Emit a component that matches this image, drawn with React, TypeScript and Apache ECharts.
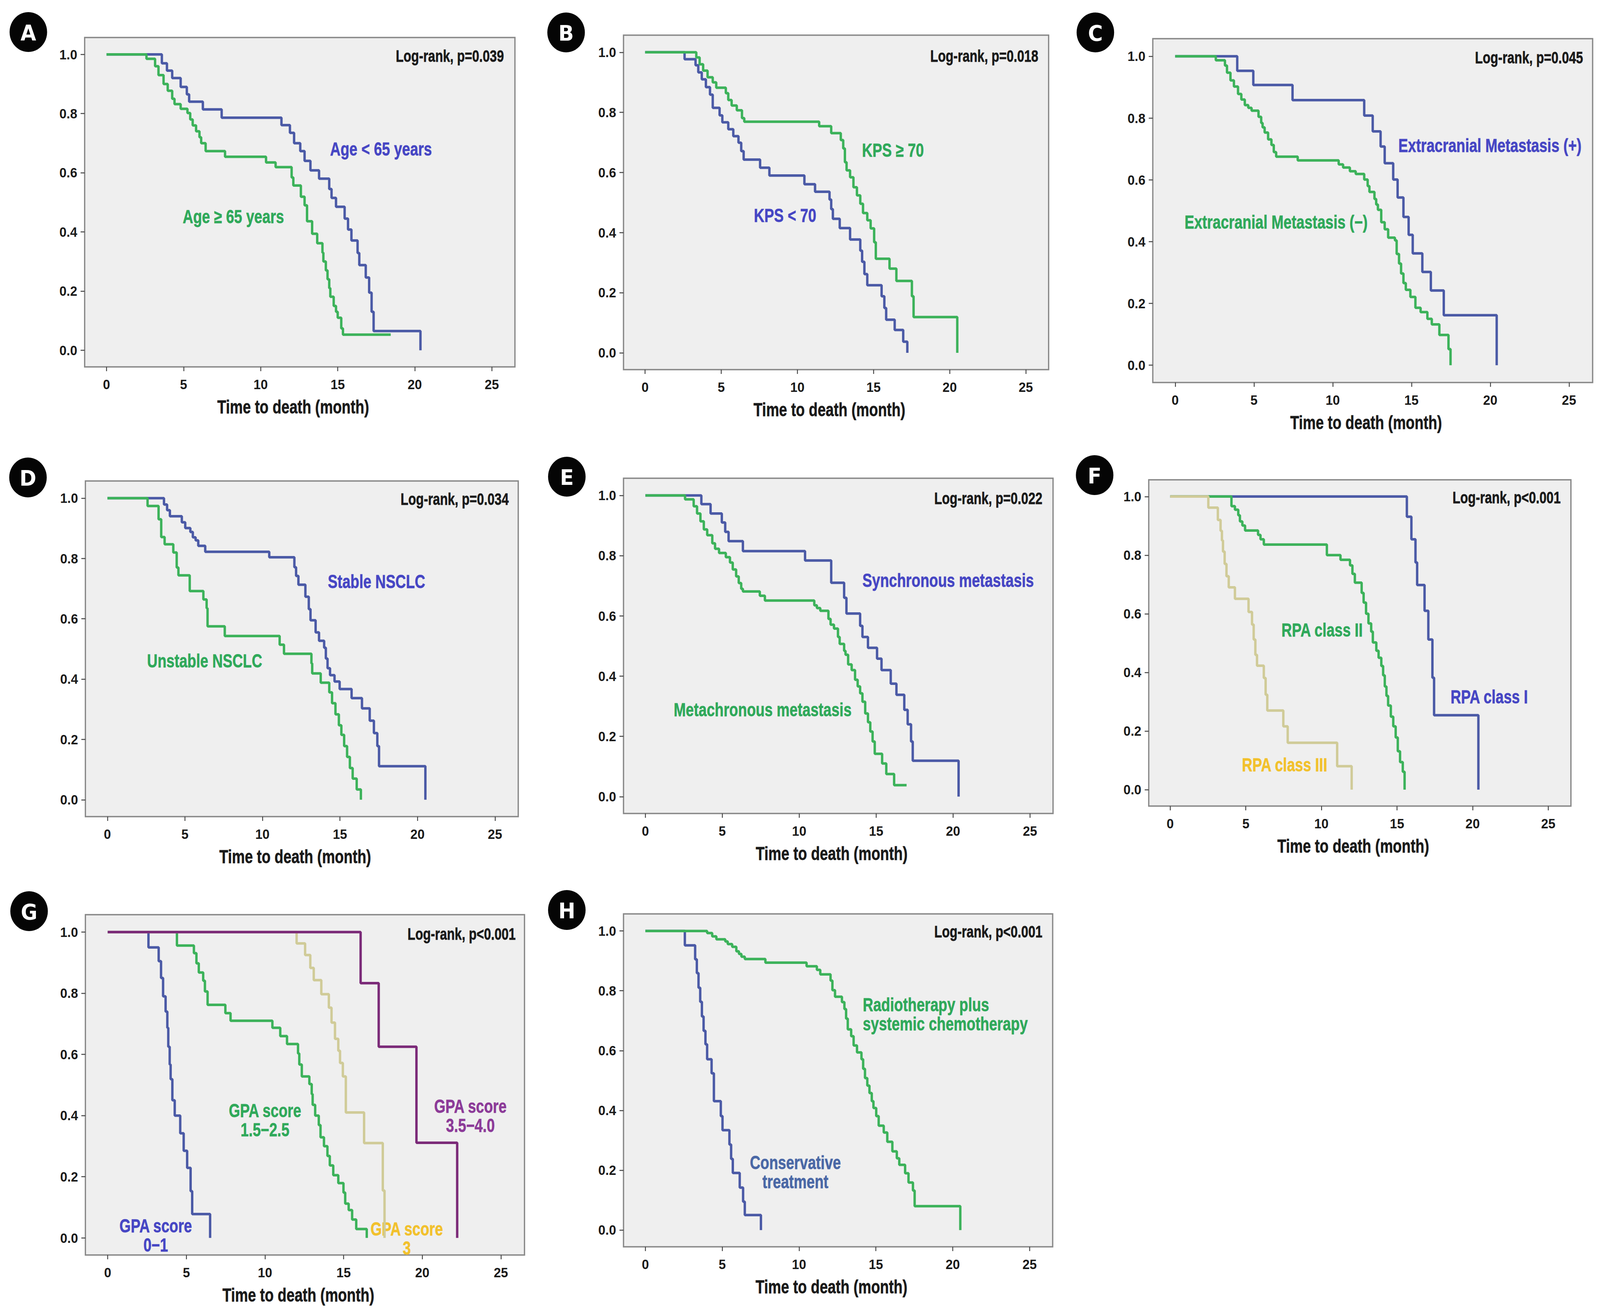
import React, { useEffect, useRef } from "react";
import * as echarts from "echarts";

const PAGE_W = 4347;
const PAGE_H = 3363;

// ---------- tick values / axis text ----------
const xTickValues = [0, 5, 10, 15, 20, 25];
const yTickValues = [0, 0.2, 0.4, 0.6, 0.8, 1.0];
const xAxisTitle = "Time to death (month)";
const panelLetters = ["A", "B", "C", "D", "E", "F", "G", "H"];
const logRankTexts = [
  "Log-rank, p=0.039",
  "Log-rank, p=0.018",
  "Log-rank, p=0.045",
  "Log-rank, p=0.034",
  "Log-rank, p=0.022",
  "Log-rank, p<0.001",
  "Log-rank, p<0.001",
  "Log-rank, p<0.001",
];

// ---------- survival data: [time (month), survival] ----------
const aUnder65 = [[0,1],[3.59,0.97],[3.92,0.945],[4.26,0.92],[4.81,0.89],[5.21,0.865],[5.36,0.84],[6.25,0.814],[7.47,0.786],[11.35,0.761],[11.9,0.735],[12.17,0.7],[12.57,0.673],[12.85,0.64],[13.23,0.608],[13.79,0.58],[14.45,0.545],[14.6,0.515],[14.89,0.485],[15.45,0.445],[15.67,0.408],[15.89,0.371],[16.29,0.329],[16.4,0.288],[16.82,0.246],[17.04,0.195],[17.2,0.13],[17.33,0.065],[20.37,0]];
const aOver65 = [[0,1],[2.59,0.985],[3.15,0.96],[3.37,0.93],[3.7,0.9],[3.97,0.877],[4.26,0.85],[4.41,0.832],[4.81,0.816],[5.25,0.802],[5.43,0.78],[5.59,0.76],[5.81,0.74],[6.03,0.72],[6.14,0.7],[6.43,0.673],[7.69,0.654],[10.35,0.635],[10.97,0.619],[12.01,0.584],[12.12,0.557],[12.61,0.519],[12.85,0.49],[13.01,0.436],[13.34,0.394],[13.67,0.362],[14.01,0.33],[14.07,0.3],[14.23,0.27],[14.34,0.24],[14.45,0.21],[14.52,0.181],[14.74,0.15],[14.89,0.13],[15.0,0.11],[15.23,0.074],[15.34,0.053],[18.44,0.053]];

const bKpsHigh = [[0,1],[3.36,0.983],[3.58,0.96],[3.81,0.939],[4.1,0.917],[4.44,0.9],[4.67,0.882],[5.3,0.864],[5.46,0.841],[5.68,0.823],[6.02,0.807],[6.36,0.781],[6.51,0.769],[11.43,0.754],[12.22,0.731],[12.85,0.708],[13.01,0.68],[13.12,0.634],[13.23,0.607],[13.46,0.584],[13.68,0.551],[13.91,0.524],[14.13,0.496],[14.31,0.465],[14.59,0.441],[14.81,0.414],[15.04,0.368],[15.15,0.313],[16.05,0.28],[16.5,0.239],[17.52,0.188],[17.63,0.119],[20.5,0]];
const bKpsLow = [[0,1],[2.59,0.977],[3.31,0.957],[3.49,0.933],[3.72,0.91],[3.99,0.884],[4.26,0.859],[4.44,0.815],[4.89,0.79],[5.07,0.767],[5.46,0.744],[5.79,0.721],[6.13,0.699],[6.31,0.671],[6.47,0.643],[7.55,0.616],[8.16,0.59],[10.46,0.561],[11.16,0.536],[12.11,0.51],[12.22,0.478],[12.33,0.446],[12.78,0.415],[13.46,0.377],[14.13,0.34],[14.25,0.303],[14.4,0.262],[14.59,0.225],[15.53,0.188],[15.71,0.149],[15.83,0.11],[16.39,0.076],[16.95,0.037],[17.22,0]];

const cExtraPos = [[0,1],[3.94,0.953],[4.96,0.907],[7.45,0.858],[12.0,0.808],[12.54,0.757],[13.04,0.708],[13.3,0.654],[13.84,0.601],[14.12,0.543],[14.49,0.48],[14.82,0.422],[15.08,0.362],[15.69,0.302],[16.23,0.242],[17.05,0.162],[20.41,0]];
const cExtraNeg = [[0,1],[2.58,0.987],[3.16,0.97],[3.29,0.947],[3.51,0.922],[3.73,0.902],[3.99,0.878],[4.2,0.86],[4.42,0.842],[4.64,0.833],[4.85,0.824],[5.29,0.804],[5.46,0.784],[5.55,0.77],[5.68,0.753],[5.9,0.731],[6.11,0.713],[6.26,0.69],[6.41,0.675],[7.78,0.663],[10.38,0.65],[10.66,0.64],[11.09,0.628],[11.46,0.619],[12.0,0.601],[12.22,0.58],[12.33,0.561],[12.65,0.538],[12.76,0.52],[12.87,0.503],[13.08,0.463],[13.3,0.44],[13.52,0.413],[13.95,0.404],[14.06,0.36],[14.21,0.329],[14.34,0.297],[14.49,0.266],[14.64,0.244],[14.93,0.221],[15.25,0.186],[15.58,0.172],[16.01,0.15],[16.29,0.132],[16.77,0.098],[17.35,0.052],[17.48,0]];

const dStable = [[0,1],[3.65,0.979],[3.85,0.96],[4.03,0.94],[4.8,0.92],[5.02,0.901],[5.35,0.888],[5.51,0.87],[5.69,0.86],[5.86,0.842],[6.31,0.822],[10.44,0.804],[12.06,0.771],[12.17,0.742],[12.32,0.713],[12.77,0.673],[12.99,0.632],[13.1,0.595],[13.43,0.555],[13.65,0.527],[13.98,0.504],[14.09,0.468],[14.2,0.436],[14.36,0.413],[14.65,0.392],[14.98,0.367],[15.75,0.337],[16.42,0.303],[16.92,0.262],[17.19,0.221],[17.41,0.178],[17.52,0.111],[20.51,0]];
const dUnstable = [[0,1],[2.59,0.974],[3.3,0.93],[3.47,0.871],[3.69,0.847],[4.25,0.82],[4.47,0.77],[4.58,0.744],[5.31,0.692],[6.19,0.664],[6.4,0.635],[6.46,0.575],[7.57,0.543],[11.11,0.514],[11.39,0.484],[13.16,0.452],[13.21,0.419],[13.76,0.388],[14.31,0.356],[14.49,0.32],[14.71,0.283],[14.93,0.247],[15.09,0.215],[15.27,0.178],[15.46,0.142],[15.64,0.105],[15.82,0.07],[16.08,0.034],[16.35,0]];

const eSync = [[0,1],[3.64,0.971],[4.24,0.94],[4.97,0.91],[5.19,0.879],[5.41,0.848],[6.34,0.815],[10.38,0.784],[12.08,0.71],[12.92,0.66],[13.07,0.608],[13.96,0.567],[14.11,0.53],[14.47,0.494],[15.06,0.458],[15.35,0.42],[15.95,0.375],[16.32,0.338],[16.83,0.288],[17.05,0.24],[17.27,0.183],[17.38,0.119],[20.36,0]];
const eMeta = [[0,1],[2.58,0.987],[3.14,0.964],[3.36,0.94],[3.58,0.914],[3.8,0.887],[4.02,0.868],[4.35,0.841],[4.53,0.823],[4.79,0.809],[5.23,0.795],[5.5,0.777],[5.68,0.754],[5.9,0.731],[6.07,0.709],[6.23,0.69],[6.34,0.681],[7.44,0.667],[7.77,0.651],[10.98,0.635],[11.15,0.626],[11.37,0.617],[11.9,0.59],[12.04,0.571],[12.26,0.558],[12.52,0.53],[12.63,0.507],[12.92,0.484],[13.01,0.471],[13.18,0.439],[13.41,0.42],[13.63,0.388],[13.8,0.366],[13.96,0.343],[14.11,0.315],[14.29,0.276],[14.47,0.247],[14.62,0.216],[14.77,0.183],[14.91,0.142],[15.39,0.11],[15.66,0.075],[16.17,0.038],[16.98,0.038]];

const fClassI = [[0,1],[15.65,0.931],[15.95,0.854],[16.22,0.775],[16.33,0.698],[16.82,0.61],[17.07,0.512],[17.34,0.382],[17.45,0.254],[20.38,0]];
const fClassII = [[0,1],[4.05,0.967],[4.28,0.955],[4.5,0.936],[4.61,0.915],[4.77,0.901],[4.95,0.884],[5.81,0.869],[5.97,0.854],[6.19,0.836],[10.36,0.8],[11.26,0.784],[11.89,0.765],[12.05,0.736],[12.21,0.706],[12.66,0.671],[12.79,0.638],[12.95,0.6],[13.11,0.567],[13.29,0.539],[13.4,0.502],[13.63,0.474],[13.78,0.45],[13.96,0.422],[14.08,0.39],[14.19,0.352],[14.3,0.32],[14.41,0.287],[14.59,0.249],[14.75,0.216],[14.91,0.178],[15.05,0.131],[15.2,0.094],[15.38,0.061],[15.5,0]];
const fClassIII = [[0,1],[2.52,0.962],[3.15,0.92],[3.33,0.883],[3.42,0.85],[3.49,0.812],[3.6,0.77],[3.72,0.728],[3.87,0.69],[4.28,0.651],[5.18,0.606],[5.41,0.563],[5.52,0.512],[5.63,0.46],[5.74,0.423],[6.19,0.381],[6.31,0.324],[6.42,0.27],[7.48,0.216],[7.77,0.16],[11.04,0.08],[12.0,0]];

const gScore01 = [[0,1],[2.59,0.95],[3.24,0.905],[3.39,0.85],[3.52,0.79],[3.68,0.74],[3.79,0.687],[3.85,0.625],[3.94,0.567],[4.0,0.519],[4.11,0.45],[4.26,0.4],[4.61,0.342],[4.83,0.285],[5.05,0.229],[5.27,0.153],[5.37,0.078],[6.51,0]];
const gScore1525 = [[0,1],[4.4,0.956],[5.48,0.931],[5.64,0.898],[5.79,0.868],[6.07,0.841],[6.18,0.806],[6.35,0.762],[7.48,0.735],[7.81,0.71],[10.47,0.687],[10.97,0.66],[11.4,0.634],[12.1,0.603],[12.18,0.567],[12.34,0.528],[12.82,0.503],[12.97,0.47],[13.03,0.435],[13.19,0.4],[13.42,0.369],[13.53,0.329],[13.75,0.3],[13.97,0.268],[14.12,0.237],[14.34,0.205],[14.66,0.179],[14.99,0.148],[15.1,0.112],[15.32,0.091],[15.54,0.06],[15.8,0.029],[16.47,0]];
const gScore3 = [[0,1],[12.01,0.963],[12.55,0.925],[12.88,0.883],[13.1,0.843],[13.58,0.797],[14.06,0.753],[14.23,0.704],[14.45,0.651],[14.66,0.612],[14.77,0.572],[14.95,0.528],[15.14,0.41],[16.3,0.31],[17.49,0.155],[17.6,0]];
const gScore3540 = [[0,1],[16.08,0.833],[17.23,0.625],[19.63,0.311],[22.22,0]];

const hConservative = [[0,1],[2.57,0.952],[3.24,0.905],[3.35,0.859],[3.46,0.81],[3.57,0.763],[3.68,0.714],[3.79,0.666],[3.91,0.621],[4.02,0.571],[4.31,0.524],[4.46,0.431],[4.91,0.381],[5.02,0.334],[5.47,0.286],[5.58,0.238],[5.69,0.191],[6.14,0.142],[6.36,0.095],[6.47,0.05],[7.52,0]];
const hRadioChemo = [[0,1],[4.02,0.993],[4.35,0.982],[4.62,0.972],[5.2,0.965],[5.36,0.956],[5.65,0.947],[5.92,0.932],[6.09,0.923],[6.25,0.914],[6.47,0.906],[7.81,0.894],[10.49,0.882],[11.16,0.87],[11.38,0.855],[12.05,0.834],[12.17,0.802],[12.34,0.78],[12.79,0.762],[12.95,0.739],[13.06,0.707],[13.17,0.671],[13.39,0.648],[13.55,0.617],[13.77,0.594],[14.06,0.571],[14.17,0.539],[14.29,0.508],[14.44,0.483],[14.58,0.458],[14.73,0.431],[14.84,0.408],[15.02,0.381],[15.18,0.349],[15.51,0.326],[15.74,0.295],[16.07,0.263],[16.36,0.24],[16.52,0.218],[16.9,0.19],[17.12,0.159],[17.41,0.132],[17.52,0.08],[20.49,0]];

// ---------- styles ----------
const LINE = { blue: "#4b5aa6", green: "#3cb25a", tan: "#d0cb98", purple: "#7b2a78" };
const TXT = { blue: "#4646c4", green: "#2fa95a", gold: "#f2c12c", purple: "#8c3a98", steel: "#4a68a6" };
const SANS = "'Liberation Sans', Arial, sans-serif";
const NARROW_X = 0.82;
const X_MIN = -1.42, X_MAX = 26.5, Y_MIN = -0.056, Y_MAX = 1.057;

type Curve = { name: string; data: number[][]; color: string };
type Label = { text: string; x: number; y: number; color: string; align?: string };
type Panel = { box: number[]; circle: number[]; logrank: number[]; curves: Curve[]; labels: Label[] };

const panels: Panel[] = [
  { box: [230, 96, 1399, 939], circle: [77, 82], logrank: [1369, 143],
    curves: [
      { name: "Age < 65 years", data: aUnder65, color: LINE.blue },
      { name: "Age ≥ 65 years", data: aOver65, color: LINE.green },
    ],
    labels: [
      { text: "Age < 65 years", x: 1035, y: 381, color: TXT.blue },
      { text: "Age ≥ 65 years", x: 634, y: 554, color: TXT.green },
    ] },
  { box: [1694, 90, 2849, 946], circle: [1538, 83], logrank: [2821, 143],
    curves: [
      { name: "KPS < 70", data: bKpsLow, color: LINE.blue },
      { name: "KPS ≥ 70", data: bKpsHigh, color: LINE.green },
    ],
    labels: [
      { text: "KPS ≥ 70", x: 2426, y: 384, color: TXT.green },
      { text: "KPS < 70", x: 2133, y: 551, color: TXT.blue },
    ] },
  { box: [3132, 99, 4327, 979], circle: [2976, 83], logrank: [4301, 147],
    curves: [
      { name: "Extracranial Metastasis (+)", data: cExtraPos, color: LINE.blue },
      { name: "Extracranial Metastasis (−)", data: cExtraNeg, color: LINE.green },
    ],
    labels: [
      { text: "Extracranial Metastasis (+)", x: 4048, y: 372, color: TXT.blue },
      { text: "Extracranial Metastasis (−)", x: 3467, y: 568, color: TXT.green },
    ] },
  { box: [232, 1231, 1408, 2090], circle: [76, 1222], logrank: [1382, 1277],
    curves: [
      { name: "Stable NSCLC", data: dStable, color: LINE.blue },
      { name: "Unstable NSCLC", data: dUnstable, color: LINE.green },
    ],
    labels: [
      { text: "Stable NSCLC", x: 1023, y: 1488, color: TXT.blue },
      { text: "Unstable NSCLC", x: 556, y: 1691, color: TXT.green },
    ] },
  { box: [1694, 1224, 2861, 2082], circle: [1540, 1220], logrank: [2832, 1275],
    curves: [
      { name: "Synchronous metastasis", data: eSync, color: LINE.blue },
      { name: "Metachronous metastasis", data: eMeta, color: LINE.green },
    ],
    labels: [
      { text: "Synchronous metastasis", x: 2576, y: 1485, color: TXT.blue },
      { text: "Metachronous metastasis", x: 2072, y: 1816, color: TXT.green },
    ] },
  { box: [3121, 1228, 4268, 2063], circle: [2974, 1216], logrank: [4240, 1273],
    curves: [
      { name: "RPA class I", data: fClassI, color: LINE.blue },
      { name: "RPA class II", data: fClassII, color: LINE.green },
      { name: "RPA class III", data: fClassIII, color: LINE.tan },
    ],
    labels: [
      { text: "RPA class II", x: 3592, y: 1612, color: TXT.green },
      { text: "RPA class I", x: 4046, y: 1783, color: TXT.blue },
      { text: "RPA class III", x: 3490, y: 1957, color: TXT.gold },
    ] },
  { box: [232, 2341, 1425, 3212], circle: [79, 2332], logrank: [1401, 2390],
    curves: [
      { name: "GPA score 0−1", data: gScore01, color: LINE.blue },
      { name: "GPA score 1.5−2.5", data: gScore1525, color: LINE.green },
      { name: "GPA score 3", data: gScore3, color: LINE.tan },
      { name: "GPA score 3.5−4.0", data: gScore3540, color: LINE.purple },
    ],
    labels: [
      { text: "GPA score\n1.5−2.5", x: 720, y: 2867, color: TXT.green },
      { text: "GPA score\n3.5−4.0", x: 1278, y: 2856, color: TXT.purple },
      { text: "GPA score\n0−1", x: 423, y: 3162, color: TXT.blue },
      { text: "GPA score\n3", x: 1105, y: 3170, color: TXT.gold },
    ] },
  { box: [1694, 2339, 2860, 3191], circle: [1540, 2329], logrank: [2832, 2384],
    curves: [
      { name: "Conservative treatment", data: hConservative, color: LINE.blue },
      { name: "Radiotherapy plus systemic chemotherapy", data: hRadioChemo, color: LINE.green },
    ],
    labels: [
      { text: "Radiotherapy plus\nsystemic chemotherapy", x: 2344, y: 2596, color: TXT.green, align: "left" },
      { text: "Conservative\ntreatment", x: 2161, y: 3000, color: TXT.steel },
    ] },
];

function narrowText(text: string, x: number, y: number, fontSize: number, fill: string, align: string) {
  return {
    type: "text", x, y, scaleX: NARROW_X, scaleY: 1,
    style: {
      text, fill, fontSize, fontWeight: "bold", fontFamily: SANS,
      align, verticalAlign: "middle", lineHeight: fontSize + 1,
      stroke: fill, lineWidth: 0.8,
    },
  };
}

function buildOption() {
  const grid: any[] = [];
  const xAxis: any[] = [];
  const yAxis: any[] = [];
  const series: any[] = [];
  const graphic: any[] = [];

  panels.forEach((p, i) => {
    const [L, T, R, B] = p.box;
    grid.push({
      left: L, top: T, width: R - L, height: B - T,
      show: true, backgroundColor: "#efefef", borderColor: "#888888", borderWidth: 3.5,
    });
    xAxis.push({
      gridIndex: i, type: "value", min: X_MIN, max: X_MAX,
      axisLine: { show: false, onZero: false }, splitLine: { show: false },
      axisTick: { show: true, length: 11, inside: false, customValues: xTickValues, lineStyle: { color: "#444", width: 2.5 } },
      axisLabel: { customValues: xTickValues, margin: 27, fontSize: 35, fontWeight: "bold", fontFamily: SANS, color: "#1a1a1a" },
    });
    yAxis.push({
      gridIndex: i, type: "value", min: Y_MIN, max: Y_MAX,
      axisLine: { show: false, onZero: false }, splitLine: { show: false },
      axisTick: { show: true, length: 11, inside: false, customValues: yTickValues, lineStyle: { color: "#444", width: 2.5 } },
      axisLabel: {
        customValues: yTickValues, margin: 20, fontSize: 35, fontWeight: "bold", fontFamily: SANS, color: "#1a1a1a",
        formatter: (v: number) => v.toFixed(1),
      },
    });
    p.curves.forEach((c) => {
      series.push({
        type: "line", name: c.name, xAxisIndex: i, yAxisIndex: i, step: "end",
        showSymbol: false, symbol: "none", data: c.data,
        lineStyle: { color: c.color, width: 6.5 }, itemStyle: { color: c.color },
      });
    });
    // panel letter badge
    graphic.push({ type: "circle", shape: { cx: p.circle[0], cy: p.circle[1], r: 51 }, style: { fill: "#050505" } });
    graphic.push({
      type: "text", x: p.circle[0], y: p.circle[1] + 2,
      style: { text: panelLetters[i], fill: "#ffffff", fontSize: 55, fontWeight: 900, fontFamily: "'DejaVu Sans', sans-serif", align: "center", verticalAlign: "middle" },
    });
    // axis title
    graphic.push(narrowText(xAxisTitle, (L + R) / 2 - 18, B + 102, 48, "#1a1a1a", "center"));
    // log-rank text
    graphic.push(narrowText(logRankTexts[i], p.logrank[0], p.logrank[1], 42, "#1a1a1a", "right"));
    p.labels.forEach((lb) => {
      graphic.push(narrowText(lb.text, lb.x, lb.y, 48, lb.color, lb.align || "center"));
    });
  });

  return { animation: false, backgroundColor: "#ffffff", grid, xAxis, yAxis, series, graphic };
}

export default function App() {
  const ref = useRef<HTMLDivElement>(null);
  // fit the full reference canvas into the actual viewport
  const sx = typeof window !== "undefined" ? Math.min(1, window.innerWidth / PAGE_W) : 1;
  const sy = typeof window !== "undefined" ? Math.min(1, window.innerHeight / PAGE_H) : 1;
  useEffect(() => {
    if (!ref.current) return;
    document.body.style.overflow = "hidden";
    document.documentElement.style.overflow = "hidden";
    const chart = echarts.init(ref.current, null, { renderer: "svg", width: PAGE_W, height: PAGE_H });
    chart.setOption(buildOption() as any);
    return () => chart.dispose();
  }, []);
  return (
    <div
      ref={ref}
      style={{
        position: "absolute", left: 0, top: 0, width: PAGE_W, height: PAGE_H, background: "#ffffff",
        transform: `scale(${sx}, ${sy})`, transformOrigin: "0 0",
      }}
    />
  );
}
